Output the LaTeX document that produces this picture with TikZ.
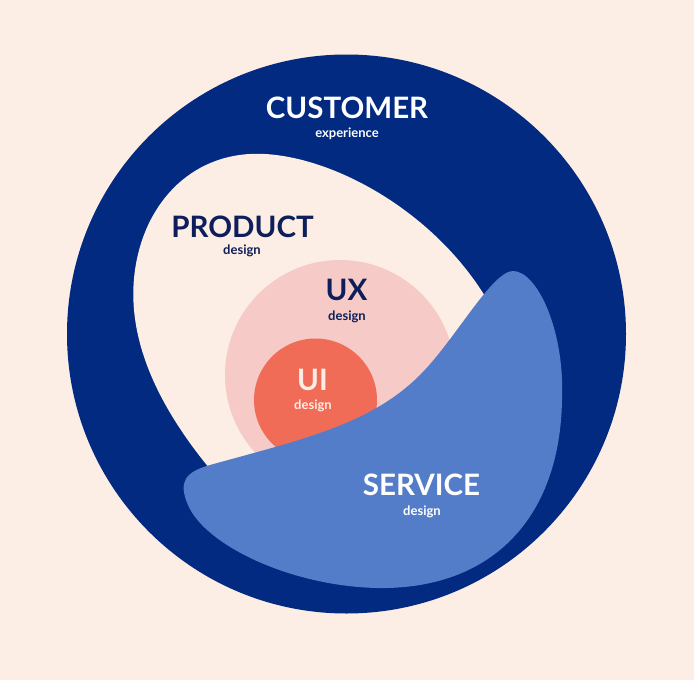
\documentclass[tikz,border=0pt]{standalone}
\usepackage{fontspec}
\setmainfont{Lato}
\usetikzlibrary{positioning}

\definecolor{bgpeach}{RGB}{252,237,229}
\definecolor{navyring}{RGB}{1,42,128}
\definecolor{uxpink}{RGB}{245,202,199}
\definecolor{uicoral}{RGB}{240,108,86}
\definecolor{serviceblue}{RGB}{83,125,200}
\definecolor{inktext}{RGB}{13,30,90}

\tikzset{
  bigtitle/.style={font=\bfseries\fontsize{29.5}{31}\selectfont, inner sep=0pt, anchor=base},
  subtitle/.style={font=\bfseries\fontsize{13}{15}\selectfont, inner sep=0pt, anchor=base},
}

\begin{document}
\begin{tikzpicture}[x=1pt, y=-1pt]
  \fill[bgpeach] (0,0) rectangle (694,680);
  % customer ring
  \fill[navyring] (346.5,334) circle[radius=279.5];
  % product blob, its lower right hides under the service blob
  \fill[bgpeach] (215,475) .. controls (160,410) and (125,340) .. (135,270)
    .. controls (145,200) and (195,150) .. (265,154)
    .. controls (335,158) and (430,210) .. (483,293)
    .. controls (520,350) and (540,400) .. (530,420) -- cycle;
  \fill[uxpink] (340,375) circle[radius=115];
  \fill[uicoral] (315.5,400) circle[radius=61.5];
  % service blob
  \fill[serviceblue] (210,465) .. controls (300,440) and (370,425) .. (420,375)
    .. controls (455,340) and (492,271) .. (513,271)
    .. controls (537,271) and (565,330) .. (562,400)
    .. controls (560,520) and (490,590) .. (377,588)
    .. controls (290,586) and (205,545) .. (188,505)
    .. controls (178,482) and (185,472) .. (210,465) -- cycle;

  \node[bigtitle, white] (customer) at (347,118) {CUSTOMER};
  \node[subtitle, white] (customerSub) at (347,137) {experience};
  \node[bigtitle, inktext] (product) at (242.5,237) {PRODUCT};
  \node[subtitle, inktext] (productSub) at (242,254) {design};
  \node[bigtitle, inktext] (ux) at (346.5,300) {UX};
  \node[subtitle, inktext] (uxSub) at (347,320) {design};
  \node[bigtitle, bgpeach] (ui) at (312.5,390) {UI};
  \node[subtitle, bgpeach] (uiSub) at (313,409) {design};
  \node[bigtitle, white] (service) at (421.5,495) {SERVICE};
  \node[subtitle, white] (serviceSub) at (422,515) {design};
\end{tikzpicture}
\end{document}
